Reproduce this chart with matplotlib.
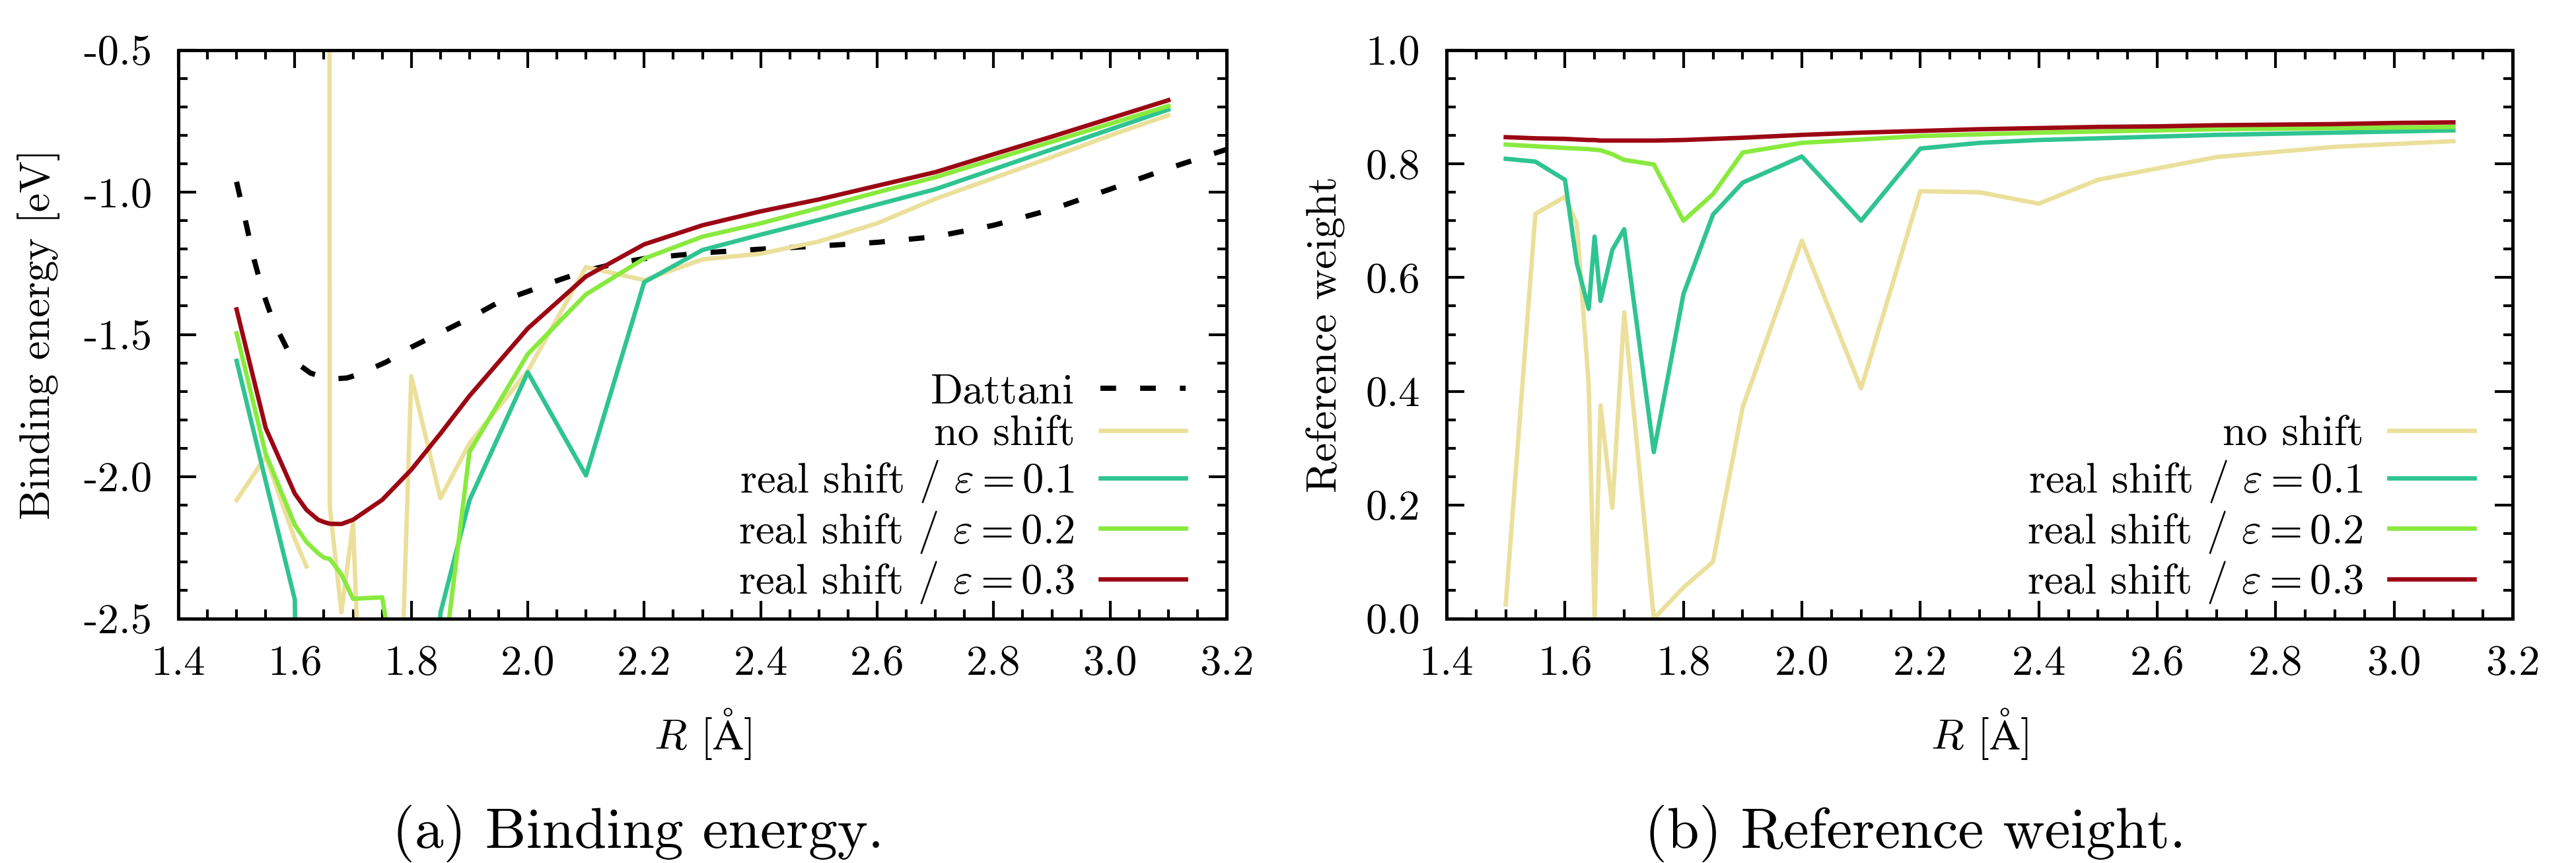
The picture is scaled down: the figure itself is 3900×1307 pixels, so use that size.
import matplotlib
matplotlib.use("Agg")
import matplotlib.pyplot as plt
from matplotlib.ticker import MultipleLocator, FormatStrFormatter

plt.rcParams['font.family'] = ['cmr10', 'DejaVu Serif']
plt.rcParams['mathtext.fontset'] = 'cm'
plt.rcParams['axes.unicode_minus'] = False
plt.rcParams['axes.formatter.use_mathtext'] = True

nan = float('nan')

# bond distances (Angstrom)
r = [1.5, 1.55, 1.6, 1.62, 1.64, 1.65, 1.66, 1.68, 1.7, 1.75, 1.8, 1.85, 1.9,
     2.0, 2.1, 2.2, 2.3, 2.4, 2.5, 2.6, 2.7, 2.8, 2.9, 3.0, 3.1]

# binding energy [eV]
e_noshift = [-2.083, -1.93, -2.22, -2.316, nan, 40.0, -2.105, -2.477, -2.163, -4.87,
             -1.647, -2.076, -1.883, -1.629, -1.263, -1.309, -1.236, -1.216, -1.173,
             -1.109, -1.023, -0.95, -0.876, -0.80, -0.729]
e_eps01 = [-1.593, -2.016, -2.433, -5.0, -6.0, -5.5, -6.0, -5.0, -5.0, -8.0,
           -6.0, -2.48, -2.083, -1.633, -1.996, -1.316, -1.203, -1.149, -1.097,
           -1.043, -0.989, -0.919, -0.849, -0.779, -0.709]
e_eps02 = [-1.496, -1.92, -2.17, -2.23, -2.27, -2.285, -2.29, -2.344, -2.43, -2.425,
           -3.05, -2.75, -1.913, -1.569, -1.359, -1.233, -1.156, -1.109, -1.055,
           -1.0, -0.947, -0.884, -0.822, -0.759, -0.696]
e_eps03 = [-1.412, -1.829, -2.06, -2.117, -2.152, -2.16, -2.166, -2.167, -2.152, -2.082,
           -1.976, -1.849, -1.716, -1.479, -1.296, -1.183, -1.116, -1.067, -1.025,
           -0.977, -0.929, -0.866, -0.804, -0.74, -0.676]

# reference curve (Dattani)
r_dat = [1.5, 1.517, 1.53, 1.546, 1.562, 1.588, 1.6, 1.627, 1.653, 1.67, 1.69, 1.71,
         1.758, 1.8, 1.855, 1.9, 1.953, 2.0, 2.05, 2.1, 2.148, 2.2, 2.3, 2.4, 2.5,
         2.6, 2.7, 2.8, 2.9, 3.0, 3.1, 3.2]
e_dat = [-0.963, -1.116, -1.236, -1.356, -1.449, -1.556, -1.596, -1.636, -1.653, -1.656,
         -1.653, -1.640, -1.596, -1.545, -1.489, -1.443, -1.383, -1.349, -1.311, -1.276,
         -1.252, -1.233, -1.213, -1.2, -1.189, -1.176, -1.156, -1.116, -1.06, -0.989,
         -0.916, -0.849]

# reference weight
w_noshift = [0.025, 0.712, 0.742, 0.695, 0.412, 0.0, 0.375, 0.195, 0.539, 0.0,
             0.055, 0.10, 0.372, 0.665, 0.405, 0.752, 0.75, 0.73, 0.772, 0.792,
             0.812, 0.821, 0.83, 0.835, 0.84]
w_eps01 = [0.809, 0.804, 0.772, 0.625, 0.545, 0.672, 0.559, 0.649, 0.685, 0.293,
           0.571, 0.711, 0.767, 0.813, 0.70, 0.827, 0.837, 0.842, 0.845, 0.848,
           0.851, 0.853, 0.855, 0.857, 0.859]
w_eps02 = [0.834, 0.831, 0.828, 0.827, 0.826, 0.825, 0.824, 0.817, 0.807, 0.799,
           0.70, 0.747, 0.82, 0.837, 0.843, 0.849, 0.852, 0.855, 0.857, 0.859,
           0.861, 0.862, 0.863, 0.864, 0.865]
w_eps03 = [0.847, 0.845, 0.844, 0.843, 0.842, 0.842, 0.841, 0.841, 0.841, 0.841,
           0.842, 0.844, 0.846, 0.851, 0.855, 0.858, 0.861, 0.863, 0.865, 0.866,
           0.868, 0.869, 0.870, 0.872, 0.873]

labels = ['no shift', r'real shift $/$ $\varepsilon = 0.1$',
          r'real shift $/$ $\varepsilon = 0.2$', r'real shift $/$ $\varepsilon = 0.3$']
colors = ['#ebe09b', '#2fc492', '#89ea3e', '#9b0814']

fs = 15.5
lw = 1.6

fig = plt.figure(figsize=(13, 1307 / 300), dpi=300)
ax1 = fig.add_axes([270 / 3900, 1 - 937 / 1307, 1587 / 3900, 861 / 1307])
ax2 = fig.add_axes([2190 / 3900, 1 - 937 / 1307, 1614 / 3900, 861 / 1307])

ax1.plot(r_dat, e_dat, color='black', lw=1.9, dashes=(3, 4.6), label='Dattani')
for y, c, lab in zip([e_noshift, e_eps01, e_eps02, e_eps03], colors, labels):
    ax1.plot(r, y, color=c, lw=lw, label=lab)
for y, c, lab in zip([w_noshift, w_eps01, w_eps02, w_eps03], colors, labels):
    ax2.plot(r, y, color=c, lw=lw, label=lab)

ax1.set_ylim(-2.5, -0.5)
ax1.yaxis.set_major_locator(MultipleLocator(0.5))
ax1.yaxis.set_minor_locator(MultipleLocator(0.1))
ax2.set_ylim(0, 1)
ax2.yaxis.set_major_locator(MultipleLocator(0.2))
ax2.yaxis.set_minor_locator(MultipleLocator(0.05))

for ax in (ax1, ax2):
    ax.set_xlim(1.4, 3.2)
    ax.xaxis.set_major_locator(MultipleLocator(0.2))
    ax.xaxis.set_minor_locator(MultipleLocator(0.05))
    ax.xaxis.set_major_formatter(FormatStrFormatter('%.1f'))
    ax.yaxis.set_major_formatter(FormatStrFormatter('%.1f'))
    ax.tick_params(which='both', direction='in', top=True, right=True,
                   width=1.0, labelsize=fs, pad=9.5)
    ax.tick_params(which='major', length=6.5)
    ax.tick_params(which='minor', length=3.4)
    for s in ax.spines.values():
        s.set_linewidth(1.2)
    ax.set_xlabel(r'$R$ [$\mathrm{\AA}$]', fontsize=fs)
    ax.xaxis.set_label_coords(0.5, -0.155)

ax1.set_ylabel('Binding energy [eV]', fontsize=fs)
ax1.yaxis.set_label_coords(-0.113, 0.5)
ax2.set_ylabel('Reference weight', fontsize=fs)
ax2.yaxis.set_label_coords(-0.095, 0.5)

for ax, xa in ((ax1, (1795 - 270) / 1587), (ax2, (3746 - 2190) / 1614)):
    ax.legend(loc='lower right', bbox_to_anchor=(xa, 0.023), frameon=False,
              markerfirst=False, fontsize=fs, handlelength=2.0, handletextpad=0.6,
              labelspacing=0.1, borderpad=0, borderaxespad=0)

fig.text(966 / 3900, 0.0176, '(a) Binding energy.', ha='center', va='baseline', fontsize=21)
fig.text(2900 / 3900, 0.0176, '(b) Reference weight.', ha='center', va='baseline', fontsize=21)

fig.savefig('out.png', dpi=300)
